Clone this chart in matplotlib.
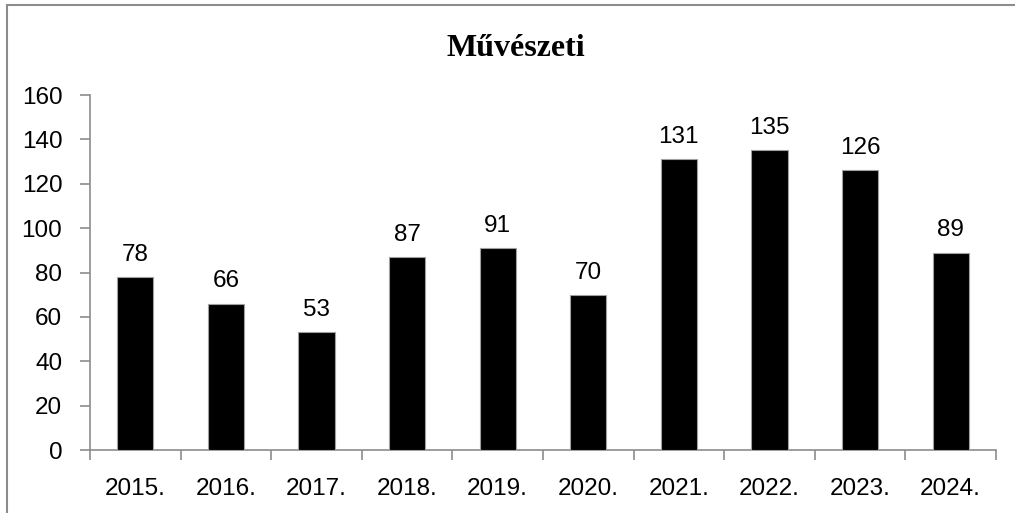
import numpy as np
import matplotlib.pyplot as plt
from matplotlib.patches import Rectangle

years = ["2015.", "2016.", "2017.", "2018.", "2019.", "2020.", "2021.", "2022.", "2023.", "2024."]
values = [78, 66, 53, 87, 91, 70, 131, 135, 126, 89]
title = "Művészeti"

fig = plt.figure(figsize=(10.15, 5.13), dpi=100)
ax = fig.add_axes([0.0887, 0.1228, 0.8925, 0.692])

x = np.arange(len(years))
ax.bar(x, values, width=0.4, color="black", edgecolor="#a0a0a0", linewidth=0.8, zorder=3)

for xi, v in zip(x, values):
    ax.text(xi, v + 5, str(v), ha="center", va="bottom", fontsize=17.5,
            family="Liberation Sans", color="black")

ax.set_xlim(-0.5, len(years) - 0.5)
ax.set_ylim(0, 160)
ax.set_yticks(range(0, 161, 20))
ax.set_xticks(x)
ax.set_xticklabels(years, family="Liberation Sans", fontsize=17.5)
for lab in ax.get_yticklabels():
    lab.set_family("Liberation Sans")
    lab.set_fontsize(17.5)

# category boundary ticks on the x axis
ax.set_xticks(np.arange(-0.5, len(years), 1), minor=True)
ax.tick_params(axis="x", which="major", length=0, pad=20)
ax.tick_params(axis="x", which="minor", length=7, width=1.2, color="#8c8c8c")
ax.tick_params(axis="y", length=7, width=1.2, color="#8c8c8c", pad=13)

for side in ["top", "right"]:
    ax.spines[side].set_visible(False)
for side in ["left", "bottom"]:
    ax.spines[side].set_color("#8c8c8c")
    ax.spines[side].set_linewidth(1.2)

fig.text(0.508, 0.905, title, ha="center", va="center", fontsize=23,
         fontweight="bold", family="Liberation Serif")

# outer chart frame
fig.patches.append(Rectangle((0.007, -0.01), 1.0, 1.0, transform=fig.transFigure,
                             fill=False, edgecolor="#8c8c8c", linewidth=1.5))

fig.savefig("out.png", dpi=100)
